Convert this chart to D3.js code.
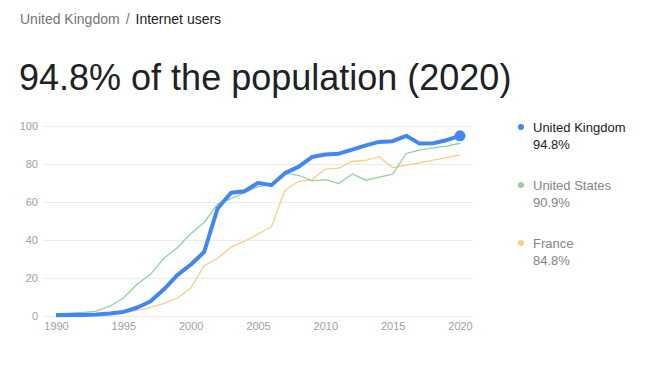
<!DOCTYPE html>
<html>
<head>
<meta charset="utf-8">
<script src="https://cdn.jsdelivr.net/npm/d3@7"></script>
<style>
  body { margin: 0; background: #fff; font-family: Arial, "Liberation Sans", sans-serif; }
</style>
</head>
<body>
<svg id="chart" width="658" height="384"></svg>
<script>
// data
const years = d3.range(1990, 2021);
const ukValues = [0.1, 0.2, 0.3, 0.5, 1.0, 1.9, 4.1, 7.4, 13.7, 21.3, 26.8, 33.5, 56.5, 64.8, 65.6, 70.0, 68.8,
  75.1, 78.4, 83.6, 85.0, 85.4, 87.5, 89.8, 91.6, 92.0, 94.8, 90.7, 90.9, 92.5, 94.8];
const usValues = [0.8, 1.2, 1.7, 2.3, 4.9, 9.2, 16.4, 21.6, 30.1, 35.8, 43.1, 49.1, 58.8, 61.7, 64.8, 68.0, 68.9,
  75.0, 74.0, 71.0, 71.7, 69.7, 74.7, 71.4, 73.0, 74.6, 85.5, 87.3, 88.5, 89.4, 90.9];
const frValues = [0.05, 0.1, 0.2, 0.3, 0.6, 1.6, 2.6, 4.3, 6.3, 9.1, 14.3, 26.3, 30.2, 36.1, 39.2, 42.9, 46.9,
  66.1, 70.7, 71.6, 77.3, 77.8, 81.4, 81.9, 83.8, 78.0, 79.3, 80.5, 82.0, 83.3, 84.8];
const seriesNames = ["United Kingdom", "United States", "France"];
const latestLabels = ["94.8%", "90.9%", "84.8%"];
const yTicks = [0, 20, 40, 60, 80, 100];
const xTicks = [1990, 1995, 2000, 2005, 2010, 2015, 2020];

const colors = ["#4285f4", "#93d0a2", "#fbcd82"];

const svg = d3.select("#chart");

// header
const crumb = svg.append("text").attr("x", 20).attr("y", 24).style("font-size", "14px");
crumb.append("tspan").attr("fill", "#70757a").text("United Kingdom");
crumb.append("tspan").attr("fill", "#70757a").attr("dx", 6).text("/");
crumb.append("tspan").attr("fill", "#202124").attr("dx", 6).text("Internet users");

svg.append("text")
  .attr("x", 19).attr("y", 90)
  .attr("fill", "#202124")
  .style("font-size", "36px")
  .text("94.8% of the population (2020)");

// scales
const x = d3.scaleLinear().domain([1990, 2020]).range([56, 460]);
const y = d3.scaleLinear().domain([0, 100]).range([315.5, 126]);

// grid
svg.append("g")
  .selectAll("line")
  .data(yTicks)
  .join("line")
  .attr("x1", 44).attr("x2", 473)
  .attr("y1", d => Math.round(y(d)) + 0.5)
  .attr("y2", d => Math.round(y(d)) + 0.5)
  .attr("stroke", "#ebebeb");

// y axis labels
const yAxis = svg.append("g")
  .attr("transform", "translate(38,0)")
  .call(d3.axisLeft(y).tickValues(yTicks).tickSize(0).tickPadding(0));
yAxis.select(".domain").remove();
yAxis.selectAll("text")
  .attr("fill", "#9e9e9e")
  .style("font-size", "11px")
  .style("font-family", "Arial, 'Liberation Sans', sans-serif");

// x axis labels
const xAxis = svg.append("g")
  .attr("transform", "translate(0,322)")
  .call(d3.axisBottom(x).tickValues(xTicks).tickFormat(d3.format("d")).tickSize(0).tickPadding(0));
xAxis.select(".domain").remove();
xAxis.selectAll("text")
  .attr("fill", "#9e9e9e")
  .style("font-size", "11px")
  .style("font-family", "Arial, 'Liberation Sans', sans-serif");

// lines
const line = d3.line().x((d, i) => x(years[i])).y(d => y(d));

svg.append("path").datum(frValues)
  .attr("d", line).attr("fill", "none")
  .attr("stroke", colors[2]).attr("stroke-width", 1.3);

svg.append("path").datum(usValues)
  .attr("d", line).attr("fill", "none")
  .attr("stroke", colors[1]).attr("stroke-width", 1.3);

svg.append("path").datum(ukValues)
  .attr("d", line).attr("fill", "none")
  .attr("stroke", colors[0]).attr("stroke-width", 4)
  .attr("stroke-linejoin", "round");

svg.append("circle")
  .attr("cx", x(years[years.length - 1]))
  .attr("cy", y(ukValues[ukValues.length - 1]))
  .attr("r", 5.5)
  .attr("fill", colors[0]);

// legend
const legend = svg.append("g")
  .selectAll("g")
  .data(seriesNames)
  .join("g")
  .attr("transform", (d, i) => `translate(521,${127 + i * 58})`);

legend.append("circle").attr("r", 3).attr("fill", (d, i) => colors[i]);
legend.append("text")
  .attr("x", 12).attr("y", 5)
  .attr("fill", (d, i) => i === 0 ? "#202124" : "#80868b")
  .style("font-size", "13px")
  .text(d => d);
legend.append("text")
  .attr("x", 12).attr("y", 22)
  .attr("fill", (d, i) => i === 0 ? "#202124" : "#80868b")
  .style("font-size", "13px")
  .text((d, i) => latestLabels[i]);
</script>
</body>
</html>
